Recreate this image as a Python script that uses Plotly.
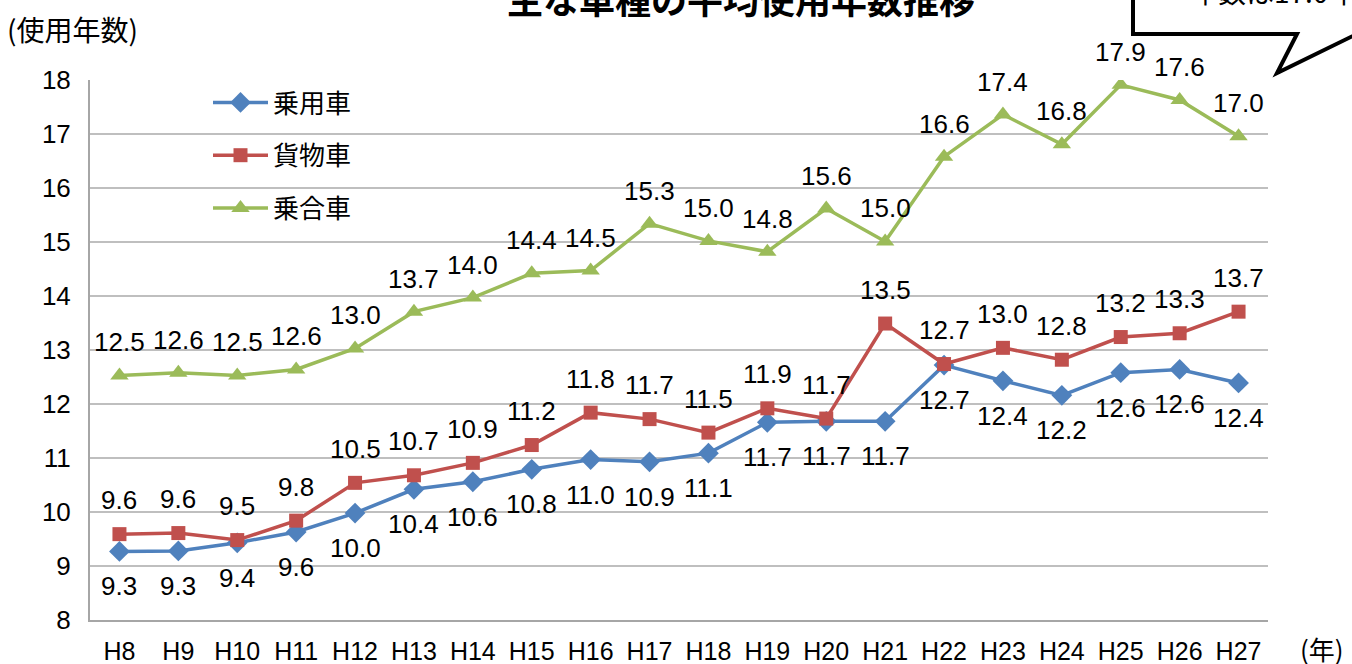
import plotly.graph_objects as go

years = ["H8", "H9", "H10", "H11", "H12", "H13", "H14", "H15", "H16", "H17",
         "H18", "H19", "H20", "H21", "H22", "H23", "H24", "H25", "H26", "H27"]
passenger = [9.27, 9.28, 9.43, 9.63, 9.98, 10.42, 10.56, 10.79, 10.97, 10.93,
             11.09, 11.66, 11.68, 11.68, 12.72, 12.43, 12.16, 12.58, 12.64, 12.39]
freight = [9.59, 9.61, 9.48, 9.84, 10.54, 10.68, 10.91, 11.24, 11.84, 11.72,
           11.47, 11.92, 11.73, 13.49, 12.74, 13.04, 12.82, 13.24, 13.31, 13.71]
bus = [12.53, 12.58, 12.53, 12.64, 13.03, 13.71, 13.97, 14.42, 14.47, 15.34,
       15.02, 14.82, 15.62, 15.01, 16.58, 17.36, 16.81, 17.91, 17.63, 16.96]

series = [
    ("乗用車", passenger, "#4F81BD", "diamond", 16, -35),
    ("貨物車", freight, "#C0504D", "square", 14, 34),
    ("乗合車", bus, "#9BBB59", "triangle-up", 16, 33),
]

W, H = 1352, 664
L, R, T, B = 90, 84, 80, 44
PW, PH = W - L - R, H - T - B

def px(x):
    return (x - L) / PW

def py(y):
    return (H - B - y) / PH

fig = go.Figure()
annotations = []
for i, (name, vals, color, sym, size, shift) in enumerate(series):
    fig.add_trace(go.Scatter(
        x=years, y=vals, name=name, mode="lines+markers",
        line=dict(color=color, width=3.5),
        marker=dict(symbol=sym, size=size, color=color),
        legendgroup=f"g{i}",
    ))
    for x, v in zip(years, vals):
        annotations.append(dict(
            x=x, y=v, xref="x", yref="y", text=f"{v:.1f}", showarrow=False,
            yshift=shift, font=dict(family="Liberation Sans, Arial", size=26, color="#000000"),
        ))

# title (partly cut off at the top)
annotations.append(dict(
    x=px(741), y=py(-2), xref="paper", yref="paper", text="<b>主な車種の平均使用年数推移</b>",
    showarrow=False, xanchor="center", yanchor="middle",
    font=dict(family="Noto Sans CJK JP", size=36, color="#000000"),
))
# axis titles
annotations.append(dict(
    x=px(5), y=py(29), xref="paper", yref="paper", text="(使用年数)",
    showarrow=False, xanchor="left", yanchor="middle",
    font=dict(family="Noto Sans CJK JP, Liberation Sans", size=28, color="#000000"),
))
annotations.append(dict(
    x=px(1346), y=py(648), xref="paper", yref="paper", text="(年)",
    showarrow=False, xanchor="right", yanchor="middle",
    font=dict(family="Noto Sans CJK JP, Liberation Sans", size=26, color="#000000"),
))
# callout text (cut off)
annotations.append(dict(
    x=px(1188), y=py(-9), xref="paper", yref="paper", text="年数は17.0年",
    showarrow=False, xanchor="left", yanchor="middle",
    font=dict(family="Noto Sans CJK JP, Liberation Sans", size=28, color="#000000"),
))

pts = [(1133, -20), (1133, 34), (1297, 34), (1277, 73), (1365, 30), (1365, -20)]
path = "M " + " L ".join(f"{px(a):.5f},{py(b):.5f}" for a, b in pts) + " Z"
shapes = [dict(type="path", xref="paper", yref="paper", path=path,
               line=dict(color="#000000", width=4), fillcolor="#FFFFFF", layer="above")]

fig.update_layout(
    width=W, height=H,
    margin=dict(l=L, r=R, t=T, b=B, pad=0, autoexpand=False),
    paper_bgcolor="#FFFFFF", plot_bgcolor="#FFFFFF",
    font=dict(family="Liberation Sans, Arial", size=26, color="#000000"),
    showlegend=True,
    legend=dict(x=px(208), y=py(79), xanchor="left", yanchor="top",
                bgcolor="rgba(0,0,0,0)", tracegroupgap=16, itemwidth=55,
                font=dict(family="Noto Sans CJK JP", size=26, color="#000000")),
    annotations=annotations,
    shapes=shapes,
    xaxis=dict(type="category", range=[-0.5, 19.5], showgrid=False, automargin=False,
               showline=True, linecolor="#A6A6A6", linewidth=2,
               ticks="", ticklabelstandoff=8, tickfont=dict(size=25)),
    yaxis=dict(range=[8, 18], dtick=1, showgrid=True, gridcolor="#BFBFBF", gridwidth=1.5,
               showline=True, linecolor="#A6A6A6", linewidth=2, zeroline=False, automargin=False,
               ticks="", ticklabelstandoff=12, tickfont=dict(size=26)),
)

fig.write_html("out.html", config={"displayModeBar": False},
               post_script="document.body.style.margin='0';document.body.style.overflow='hidden';")
